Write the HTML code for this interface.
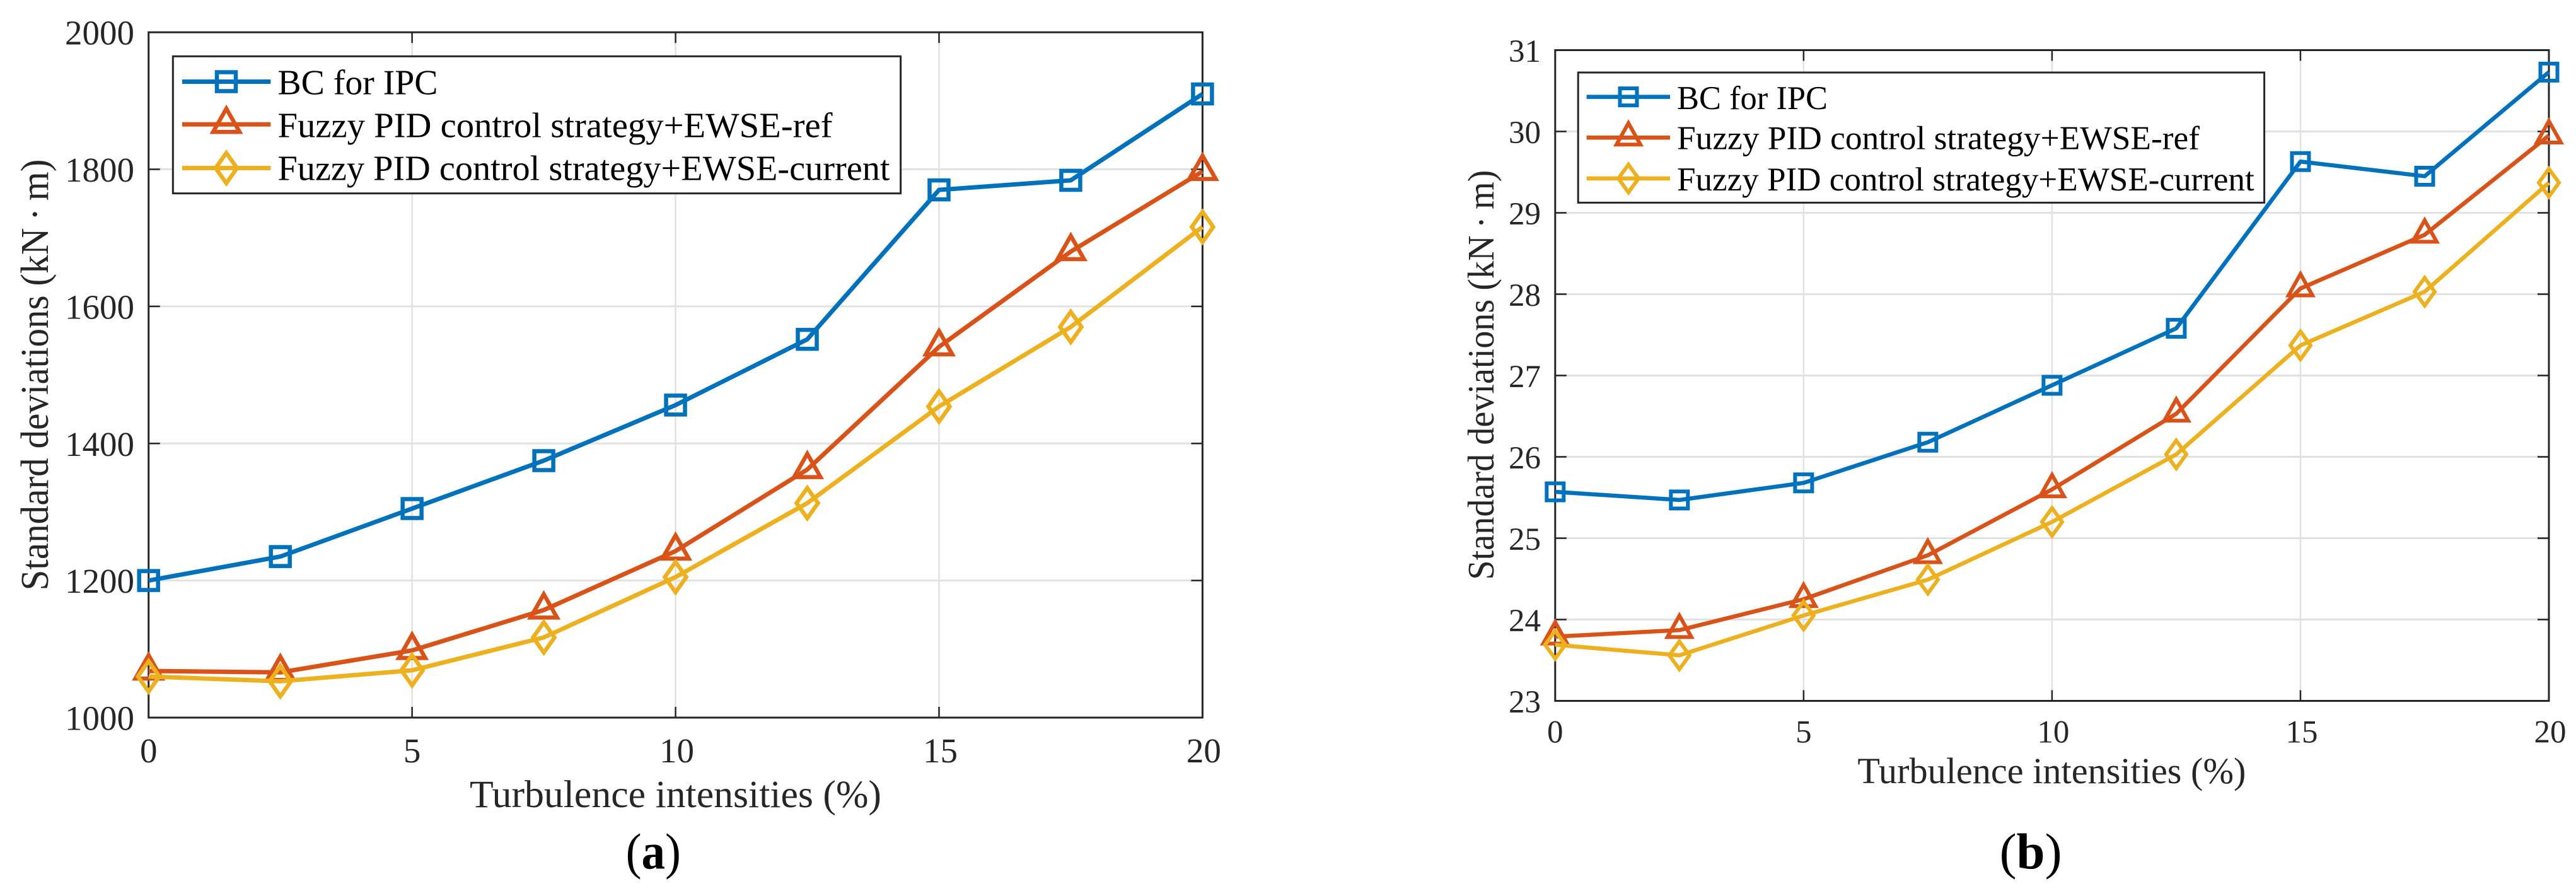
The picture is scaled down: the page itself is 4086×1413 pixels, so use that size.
<!DOCTYPE html>
<html lang="en">
<head>
<meta charset="utf-8">
<title>Standard deviations vs turbulence intensities</title>
<style>
html,body{margin:0;padding:0;background:#fff;width:4086px;height:1413px;overflow:hidden}
svg{display:block}
text{font-family:"Liberation Serif","DejaVu Serif",serif}
</style>
</head>
<body>
<svg id="figure" xmlns="http://www.w3.org/2000/svg" width="4086" height="1413" viewBox="0 0 4086 1413">
<rect width="4086" height="1413" fill="#fff"/>
</svg>
<script>
// Shared data
const turbulenceIntensities = [0, 2.5, 5, 7.5, 10, 12.5, 15, 17.5, 20];
const xTickValues = [0, 5, 10, 15, 20];
const seriesNames = ['BC for IPC', 'Fuzzy PID control strategy+EWSE-ref', 'Fuzzy PID control strategy+EWSE-current'];

// Panel (a)
const yTicksA = [1000, 1200, 1400, 1600, 1800, 2000];
const bcIpcA = [1200, 1235, 1305, 1375, 1456, 1552, 1770, 1784, 1910];
const fuzzyRefA = [1068, 1066, 1098, 1157, 1243, 1362, 1541, 1680, 1797];
const fuzzyCurrentA = [1060, 1053, 1069, 1117, 1205, 1313, 1454, 1570, 1716];

// Panel (b)
const yTicksB = [23, 24, 25, 26, 27, 28, 29, 30, 31];
const bcIpcB = [25.57, 25.47, 25.68, 26.18, 26.88, 27.58, 29.63, 29.45, 30.73];
const fuzzyRefB = [23.79, 23.87, 24.25, 24.79, 25.60, 26.53, 28.07, 28.73, 29.95];
const fuzzyCurrentB = [23.69, 23.56, 24.05, 24.49, 25.20, 26.03, 27.37, 28.03, 29.37];

const NS = 'http://www.w3.org/2000/svg';
const COLORS = ['#0072BD', '#D95319', '#EDB120'];
const AXIS = '#262626';
const GRID = '#e1e1e1';
const svg = document.getElementById('figure');

function mk(parent, tag, attrs, text) {
  const el = document.createElementNS(NS, tag);
  for (const k in attrs) el.setAttribute(k, attrs[k]);
  if (text !== undefined) el.textContent = text;
  parent.appendChild(el);
  return el;
}

function markerPath(kind, m, cx, cy) {
  if (kind === 0) {
    const s = m.sq;
    return `M${cx - s} ${cy - s}H${cx + s}V${cy + s}H${cx - s}Z`;
  }
  if (kind === 1) {
    return `M${cx} ${cy - m.triTop}L${cx + m.triW} ${cy + m.triBase}H${cx - m.triW}Z`;
  }
  return `M${cx} ${cy - m.diaH}L${cx + m.diaW} ${cy}L${cx} ${cy + m.diaH}L${cx - m.diaW} ${cy}Z`;
}

function drawPanel(p, id, yTicks, seriesList) {
  const g = mk(svg, 'g', {});
  
  

  const yMin = yTicks[0], yMax = yTicks[yTicks.length - 1];
  const xMin = xTickValues[0], xMax = xTickValues[xTickValues.length - 1];
  const sx = v => p.left + (v - xMin) / (xMax - xMin) * (p.right - p.left);
  const sy = v => p.bottom - (v - yMin) / (yMax - yMin) * (p.bottom - p.top);

  // grid
  xTickValues.slice(1, -1).forEach(v => {
    const line = mk(g, 'line', {x1: sx(v), x2: sx(v), y1: p.top, y2: p.bottom, stroke: GRID, 'stroke-width': 2.5});
    
    
  });
  yTicks.slice(1, -1).forEach(v => {
    const line = mk(g, 'line', {x1: p.left, x2: p.right, y1: sy(v), y2: sy(v), stroke: GRID, 'stroke-width': 3});
    
    
  });

  // axes box and ticks
  const box = mk(g, 'rect', {x: p.left, y: p.top, width: p.right - p.left, height: p.bottom - p.top, fill: 'none', stroke: AXIS, 'stroke-width': 3});
  
  

  xTickValues.forEach(v => {
    [[p.bottom, p.bottom - 17], [p.top, p.top + 17]].forEach(pair => {
      const t = mk(g, 'line', {x1: sx(v), x2: sx(v), y1: pair[0], y2: pair[1], stroke: AXIS, 'stroke-width': 2.5});
      
      
    });
    const lab = mk(g, 'text', {x: sx(v) + (v >= 10 ? 2 : 0), y: p.xLabelY, 'font-size': p.tickFont, 'text-anchor': 'middle', fill: AXIS}, String(v));
    
    
  });

  yTicks.forEach(v => {
    [[p.left, p.left + 18], [p.right, p.right - 18]].forEach(pair => {
      const t = mk(g, 'line', {x1: pair[0], x2: pair[1], y1: sy(v), y2: sy(v), stroke: AXIS, 'stroke-width': 2.5});
      
      
    });
    const lab = mk(g, 'text', {x: p.yLabelX, y: sy(v) + p.yLabelDy, 'font-size': p.tickFont, 'text-anchor': 'end', fill: AXIS}, String(v));
    
    
  });

  // axis titles
  const xt = mk(g, 'text', {x: p.xTitle.x, y: p.xTitle.y, 'font-size': p.xTitle.font, fill: AXIS, textLength: p.xTitle.len, lengthAdjust: 'spacingAndGlyphs'}, 'Turbulence intensities (%)');
  
  

  const yt = mk(g, 'text', {transform: `translate(${p.yTitle.x} ${p.yTitle.y}) rotate(-90)`, x: 0, y: 0, 'font-size': p.yTitle.font, fill: AXIS, textLength: p.yTitle.len, lengthAdjust: 'spacingAndGlyphs'}, 'Standard deviations (kN\u2009\u00B7\u2009m)');
  
  

  // series
  seriesList.forEach((vals, si) => {
    const sg = mk(g, 'g', {});
    
    
    const pts = vals.map((v, i) => sx(turbulenceIntensities[i]) + ',' + sy(v)).join(' ');
    const line = mk(sg, 'polyline', {points: pts, fill: 'none', stroke: COLORS[si], 'stroke-width': p.lineW, 'stroke-linejoin': 'round'});
    
    
    vals.forEach((v, i) => {
      const mark = mk(sg, 'path', {d: markerPath(si, p.marker, sx(turbulenceIntensities[i]), sy(v)), fill: 'none', stroke: COLORS[si], 'stroke-width': p.markW});
      
      
    });
  });

  // legend
  const L = p.legend;
  const lg = mk(g, 'g', {});
  
  
  const lb = mk(lg, 'rect', {x: L.x, y: L.y, width: L.w, height: L.h, fill: '#fff', stroke: AXIS, 'stroke-width': 3});
  
  
  seriesNames.forEach((name, i) => {
    const ll = mk(lg, 'line', {x1: L.lineX1, x2: L.lineX2, y1: L.rowY[i], y2: L.rowY[i], stroke: COLORS[i], 'stroke-width': p.lineW});
    
    
    const lm = mk(lg, 'path', {d: markerPath(i, p.marker, L.markX, L.rowY[i]), fill: 'none', stroke: COLORS[i], 'stroke-width': p.markW});
    
    
    const lt = mk(lg, 'text', {x: L.textX, y: L.baseY[i], 'font-size': L.font, fill: '#000', textLength: L.len[i], lengthAdjust: 'spacingAndGlyphs'}, name);
    
    
  });

  // caption
  const cap = mk(g, 'text', {x: p.caption.x, y: p.caption.y, 'font-size': p.caption.font, fill: '#000', textLength: p.caption.len, lengthAdjust: 'spacingAndGlyphs'});
  
  
  mk(cap, 'tspan', {}, '(');
  mk(cap, 'tspan', {'font-weight': 'bold'}, id);
  mk(cap, 'tspan', {}, ')');
}

drawPanel({
  left: 235.7, right: 1907.4, top: 51.2, bottom: 1138,
  tickFont: 55, xLabelY: 1209, yLabelX: 213, yLabelDy: 19.5,
  lineW: 7, markW: 6.5,
  marker: {sq: 15, triTop: 25, triBase: 12, triW: 21, diaW: 17, diaH: 24},
  xTitle: {x: 745, y: 1280, font: 61, len: 653},
  yTitle: {x: 76, y: 936.5, font: 62, len: 684},
  legend: {x: 274.3, y: 89.3, w: 1154.3, h: 217.4, lineX1: 289, lineX2: 429.3, markX: 359, textX: 440.5,
    rowY: [129.5, 197.3, 266.5], baseY: [149.5, 217.4, 285.7], font: 56, len: [254, 880, 971]},
  caption: {x: 992.6, y: 1377.6, font: 80, len: 87.4}
}, 'a', yTicksA, [bcIpcA, fuzzyRefA, fuzzyCurrentA]);

drawPanel({
  left: 2466.8, right: 4043, top: 79.5, bottom: 1111.5,
  tickFont: 51, xLabelY: 1177.5, yLabelX: 2444, yLabelDy: 18.5,
  lineW: 6.5, markW: 6,
  marker: {sq: 13.5, triTop: 23, triBase: 11, triW: 19, diaW: 16, diaH: 22},
  xTitle: {x: 2946.4, y: 1242, font: 58, len: 616},
  yTitle: {x: 2369, y: 919.6, font: 59, len: 650},
  legend: {x: 2503.2, y: 115, w: 1088.4, h: 206.4, lineX1: 2516.6, lineX2: 2649, markX: 2583, textX: 2660,
    rowY: [153.6, 218.3, 283], baseY: [172.8, 236.6, 302], font: 53, len: [239, 829, 915.7]},
  caption: {x: 3171.6, y: 1377.6, font: 80, len: 99}
}, 'b', yTicksB, [bcIpcB, fuzzyRefB, fuzzyCurrentB]);
</script>
</body>
</html>
